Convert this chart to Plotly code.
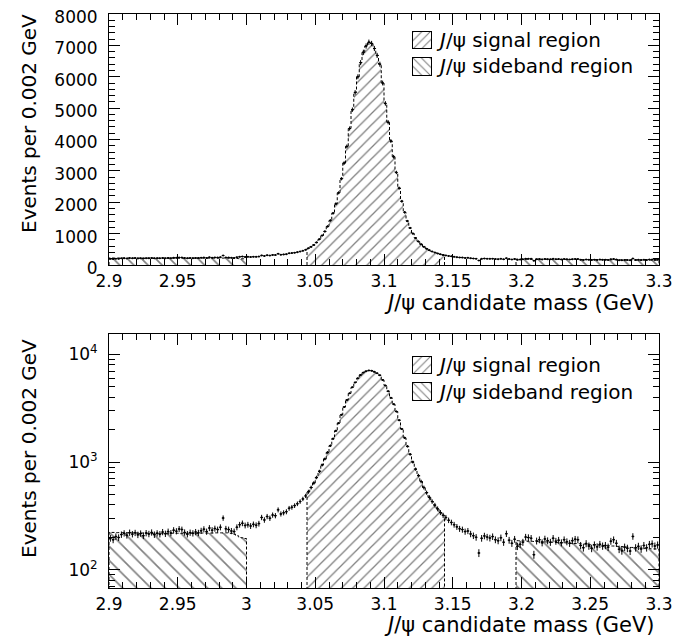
import math
import plotly.graph_objects as go

# ---------------- data ----------------
bin_width = 0.002
mass_min = 2.9
n_bins = 200

counts = [
    196, 190, 203, 199, 212, 218, 209, 221, 214, 220,
    211, 217, 207, 219, 215, 222, 212, 218, 214, 224,
    216, 226, 219, 233, 228, 239, 236, 222, 214, 221,
    218, 224, 220, 230, 238, 226, 244, 233, 241, 236,
    248, 302, 240, 236, 229, 226, 248, 262, 270, 258,
    262, 255, 264, 259, 268, 306, 290, 312, 301, 322,
    318, 360, 330, 338, 346, 372, 380, 394, 410, 430,
    455, 485, 530, 580, 640, 720, 820, 940, 1070, 1230,
    1420, 1650, 1950, 2300, 2750, 3250, 3780, 4350, 4950, 5500,
    6000, 6450, 6780, 6980, 7100, 7060, 6900, 6680, 6400, 5800,
    5150, 4550, 3950, 3450, 2950, 2450, 2030, 1680, 1400, 1180,
    1000, 860, 750, 660, 580, 520, 470, 430, 398, 368,
    340, 320, 305, 288, 275, 262, 250, 240, 236, 226,
    229, 215, 207, 200, 143, 196, 206, 201, 197, 203,
    190, 186, 198, 180, 216, 188, 176, 192, 165, 172,
    180, 201, 199, 196, 138, 185, 190, 178, 193, 186,
    180, 196, 184, 188, 178, 190, 182, 176, 186, 192,
    190, 168, 160, 175, 166, 158, 170, 163, 172, 166,
    168, 162, 184, 190, 176, 155, 150, 162, 158, 149,
    204, 160, 165, 156, 168, 160, 172, 174, 166, 170,
]

# signal region bins (3.044 - 3.144) and sideband regions
signal_bins = (72, 122)
left_sb_bins = (0, 50)
right_sb_bins = (148, 200)

left_sideband_level = [
    222, 222, 221, 221, 221, 220, 220, 220, 220, 219,
    219, 219, 219, 218, 218, 218, 218, 218, 218, 218,
    218, 218, 218, 218, 218, 218, 218, 218, 218, 218,
    218, 218, 218, 219, 219, 219, 219, 219, 220, 220,
    220, 220, 220, 220, 218, 214, 208, 202, 198, 195,
]
right_sideband_level = [
    186, 186, 185, 185, 184, 184, 183, 183, 182, 182,
    181, 181, 180, 180, 179, 179, 178, 178, 177, 176,
    176, 175, 175, 174, 173, 173, 172, 171, 171, 170,
    169, 168, 168, 167, 166, 166, 165, 164, 164, 163,
    162, 161, 161, 160, 159, 159, 158, 157, 157, 156,
    156, 155,
]

x_tick_vals = [2.9, 2.95, 3.0, 3.05, 3.1, 3.15, 3.2, 3.25, 3.3]
x_tick_text = ["2.9", "2.95", "3", "3.05", "3.1", "3.15", "3.2", "3.25", "3.3"]
y_lin_ticks = [0, 1000, 2000, 3000, 4000, 5000, 6000, 7000, 8000]
y_log_ticks = [100, 1000, 10000]
y_log_text = ["10<sup>2</sup>", "10<sup>3</sup>", "10<sup>4</sup>"]

legend_labels = ["<i>J</i>/ψ signal region", "<i>J</i>/ψ sideband region"]
legend_shapes = ["/", "\\"]
x_title = "<i>J</i>/ψ candidate mass (GeV)"
y_title = "Events per 0.002 GeV"

# ---------------- geometry ----------------
# the page body has an 8px default margin, so the figure is drawn 8px in
OFF = 8
W, H = 688 - OFF, 640 - OFF


def fx(px):
    return (px - OFF) / W


def fy(py):
    return 1 - (py - OFF) / H


centers = [mass_min + bin_width * (i + 0.5) for i in range(n_bins)]
errors = [math.sqrt(c) for c in counts]

FONT = "DejaVu Sans"
SIG_SIZE = 8
SB_SIZE = 10

fig = go.Figure()


def add_fill(x, y, shape, size, xa, ya, log):
    fig.add_trace(go.Bar(
        x=x, y=y, width=bin_width, xaxis=xa, yaxis=ya,
        marker=dict(color="white", line=dict(width=0),
                    pattern=dict(shape=shape, fgcolor="black", bgcolor="white",
                                 size=size, solidity=0.16)),
        showlegend=False, hoverinfo="skip"))
    base = 1 if log else 0
    left = x[0] - bin_width / 2
    ox = [left, left]
    oy = [base, y[0]]
    for k in range(1, len(y)):
        ox.append(x[k] - bin_width / 2)
        oy.append(y[k])
    right = x[-1] + bin_width / 2
    ox += [right, right]
    oy += [y[-1], base]
    fig.add_trace(go.Scatter(
        x=ox, y=oy, mode="lines",
        line=dict(color="black", width=1, dash="3px,2px", shape="hv"),
        xaxis=xa, yaxis=ya, showlegend=False, hoverinfo="skip"))


for xa, ya, log in (("x", "y", False), ("x2", "y2", True)):
    s0, s1 = signal_bins
    add_fill(centers[s0:s1], counts[s0:s1], "/", SIG_SIZE, xa, ya, log)
    l0, l1 = left_sb_bins
    add_fill(centers[l0:l1], left_sideband_level, "\\", SB_SIZE, xa, ya, log)
    r0, r1 = right_sb_bins
    add_fill(centers[r0:r1], right_sideband_level, "\\", SB_SIZE, xa, ya, log)
    fig.add_trace(go.Scatter(
        x=centers, y=counts, mode="markers", xaxis=xa, yaxis=ya,
        marker=dict(color="black", size=2),
        error_y=dict(type="data", array=errors, color="black", thickness=1, width=0),
        error_x=dict(type="constant", value=bin_width / 2, color="black", thickness=1, width=0),
        showlegend=False, hoverinfo="skip"))

# ---------------- legend swatches (small inset axes) ----------------
legend_rows = {
    "top": [(32, 48), (58, 75)],
    "bottom": [(357, 373), (383, 400)],
}
sw_x0, sw_x1 = 413, 431
extra_axes = {}
annotations = []
ax_id = 3
for panel, rows in legend_rows.items():
    for (r_top, r_bot), label, shape in zip(rows, legend_labels, legend_shapes):
        xa, ya = f"x{ax_id}", f"y{ax_id}"
        fig.add_trace(go.Bar(
            x=[0.5], y=[1], width=1, xaxis=xa, yaxis=ya,
            marker=dict(color="white", line=dict(width=0),
                        pattern=dict(shape=shape, fgcolor="black", bgcolor="white",
                                     size=6, solidity=0.18)),
            showlegend=False, hoverinfo="skip"))
        box = dict(showline=True, linecolor="black", linewidth=1, mirror=True,
                   showticklabels=False, ticks="", showgrid=False, zeroline=False,
                   range=[0, 1], fixedrange=True, automargin=False)
        extra_axes[f"xaxis{ax_id}"] = dict(**box, domain=[fx(sw_x0), fx(sw_x1)], anchor=ya)
        extra_axes[f"yaxis{ax_id}"] = dict(**box, domain=[fy(r_bot), fy(r_top)], anchor=xa)
        annotations.append(dict(
            text=label, x=fx(sw_x1 + 3), y=fy((r_top + r_bot) / 2),
            xref="paper", yref="paper", xanchor="left", yanchor="middle",
            showarrow=False, font=dict(family=FONT, size=20, color="black")))
        ax_id += 1

common_x = dict(
    range=[2.9, 3.3], tickvals=x_tick_vals, ticktext=x_tick_text,
    ticks="inside", ticklen=11, tickwidth=1, tickcolor="black",
    minor=dict(ticks="inside", dtick=0.01, tick0=2.9, ticklen=6, tickcolor="black", showgrid=False),
    showline=True, linecolor="black", linewidth=1, mirror="allticks",
    showgrid=False, zeroline=False, automargin=False, ticklabelstandoff=1,
    ticklabeloverflow="allow",
    tickfont=dict(family=FONT, size=17, color="black"),
    domain=[fx(109), fx(659)],
)

minor_log = [m * 10 ** d for d in range(1, 5) for m in range(2, 10)]

for txt_y in (303, 625):
    annotations.append(dict(
        text=x_title, x=fx(657), y=fy(txt_y), xref="paper", yref="paper",
        xanchor="right", yanchor="middle", showarrow=False,
        font=dict(family=FONT, size=21, color="black")))
for txt_y in (124, 449):
    annotations.append(dict(
        text=y_title, x=fx(29), y=fy(txt_y), xref="paper", yref="paper",
        xanchor="center", yanchor="middle", showarrow=False, textangle=-90,
        font=dict(family=FONT, size=20, color="black")))

fig.update_layout(
    width=W, height=H,
    margin=dict(l=0, r=0, t=0, b=0, autoexpand=False),
    paper_bgcolor="white", plot_bgcolor="white",
    barmode="overlay", bargap=0, showlegend=False,
    font=dict(family=FONT, color="black"),
    xaxis=dict(**common_x, anchor="y"),
    xaxis2=dict(**common_x, anchor="y2"),
    yaxis=dict(
        range=[0, 8000], tickvals=y_lin_ticks,
        ticks="inside", ticklen=11, tickcolor="black",
        minor=dict(ticks="inside", dtick=200, ticklen=6, tickcolor="black", showgrid=False),
        showline=True, linecolor="black", linewidth=1, mirror="allticks",
        showgrid=False, zeroline=False, automargin=False, ticklabelstandoff=7,
        ticklabeloverflow="allow", ticklabelshift=3,
        tickfont=dict(family=FONT, size=17, color="black"),
        domain=[fy(265), fy(14)], anchor="x",
    ),
    yaxis2=dict(
        type="log", range=[1.83, 4.19], tickvals=y_log_ticks, ticktext=y_log_text,
        ticks="inside", ticklen=11, tickcolor="black",
        minor=dict(ticks="inside", tickvals=minor_log, ticklen=6, tickcolor="black", showgrid=False),
        showline=True, linecolor="black", linewidth=1, mirror="allticks",
        showgrid=False, zeroline=False, automargin=False, ticklabelstandoff=7,
        ticklabeloverflow="allow",
        tickfont=dict(family=FONT, size=17, color="black"),
        domain=[fy(588), fy(334)], anchor="x2",
    ),
    annotations=annotations,
    **extra_axes,
)

fig.write_html("out.html")
